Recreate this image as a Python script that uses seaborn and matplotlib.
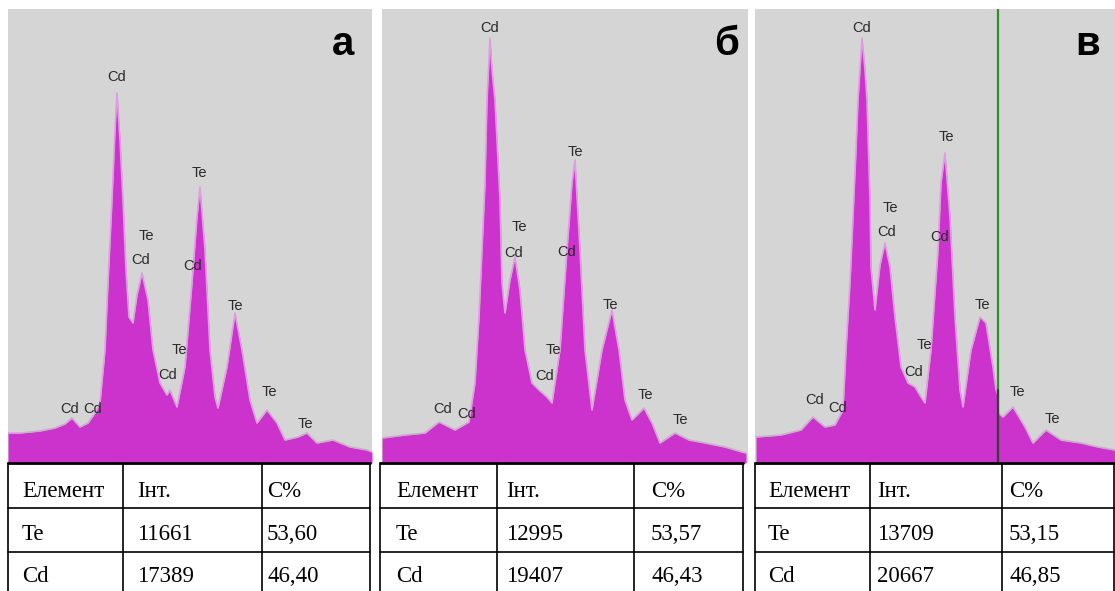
import matplotlib
matplotlib.use("Agg")
import matplotlib.pyplot as plt
import seaborn as sns
import pandas as pd

# ---------------- data ----------------
# Panel а: channel / counts outline of the EDX spectrum
a_channel = [0, 12, 32, 47, 57, 64, 72, 80, 87, 92, 97, 100, 104, 107, 109, 112, 115, 118, 121, 125,
             129, 134, 140, 145, 152, 159, 162, 169, 177, 184, 189, 192, 197, 202, 207, 210, 219, 227,
             234, 242, 249, 259, 269, 277, 290, 299, 309, 325, 342, 359, 364]
a_counts = [30, 30, 32, 35, 39, 45, 36, 40, 50, 60, 113, 180, 263, 333, 370, 323, 263, 193, 146, 140,
            168, 190, 163, 113, 80, 68, 73, 56, 96, 180, 246, 276, 213, 113, 66, 55, 96, 150,
            113, 63, 40, 53, 40, 23, 26, 30, 20, 23, 16, 13, 11]

# Panel б
b_channel = [0, 23, 43, 57, 73, 87, 93, 97, 100, 103, 105, 108, 110, 113, 118, 120, 123, 128, 133, 138,
             143, 150, 157, 165, 170, 178, 185, 190, 193, 198, 203, 210, 220, 230, 237, 243, 250, 262,
             270, 278, 293, 307, 323, 343, 360, 364]
b_counts = [25, 28, 30, 41, 33, 41, 80, 146, 213, 280, 363, 425, 393, 363, 263, 180, 150, 183, 206, 173,
            113, 80, 73, 66, 60, 113, 213, 280, 303, 213, 113, 53, 113, 153, 113, 63, 43, 55,
            40, 20, 30, 23, 20, 16, 11, 10]

# Panel в
c_channel = [1, 26, 46, 58, 70, 80, 88, 91, 95, 98, 101, 103, 107, 110, 112, 115, 116, 120, 125, 130,
             135, 140, 146, 153, 160, 166, 170, 176, 183, 186, 190, 195, 200, 205, 208, 216, 225, 231,
             238, 241, 243, 243, 248, 258, 270, 278, 291, 306, 326, 343, 360]
c_counts = [26, 28, 33, 46, 36, 38, 53, 113, 180, 246, 313, 363, 425, 393, 363, 263, 196, 153, 198, 220,
            196, 146, 96, 80, 76, 66, 60, 113, 213, 280, 310, 246, 146, 73, 56, 113, 146, 140,
            96, 73, 68, 50, 46, 56, 36, 20, 33, 23, 20, 16, 13]
c_marker_channel = 243
c_marker_dark_top = 73

# Peak labels (text, channel, counts)
a_labels = [("Cd", 109, 386), ("Te", 138, 227), ("Cd", 133, 203), ("Te", 191, 290), ("Cd", 185, 197),
            ("Te", 227, 157), ("Te", 171, 113), ("Cd", 160, 88), ("Te", 261, 71), ("Te", 297, 39),
            ("Cd", 62, 54), ("Cd", 85, 54)]
b_labels = [("Cd", 108, 435), ("Te", 193, 311), ("Te", 137, 236), ("Cd", 132, 210), ("Cd", 185, 211),
            ("Te", 228, 158), ("Te", 171, 113), ("Cd", 163, 87), ("Te", 263, 68), ("Te", 298, 43),
            ("Cd", 61, 54), ("Cd", 85, 49)]
c_labels = [("Cd", 107, 435), ("Te", 191, 326), ("Te", 135, 255), ("Cd", 132, 231), ("Cd", 185, 226),
            ("Te", 227, 158), ("Te", 169, 118), ("Cd", 159, 91), ("Te", 262, 71), ("Te", 297, 44),
            ("Cd", 60, 63), ("Cd", 83, 55)]

panel_letters = ["а", "б", "в"]
table_header = ["Елемент", "Інт.", "C%"]
elements = ["Te", "Cd"]
a_int = ["11661", "17389"]
a_conc = ["53,60", "46,40"]
b_int = ["12995", "19407"]
b_conc = ["53,57", "46,43"]
c_int = ["13709", "20667"]
c_conc = ["53,15", "46,85"]

# ---------------- style ----------------
sns.set_theme(style="white")
plt.rcParams["font.family"] = ["Liberation Sans", "DejaVu Sans"]

W, H = 1115, 591
fig = plt.figure(figsize=(W / 100, H / 100), dpi=100)
fig.patch.set_facecolor("white")

BG = "#d5d5d5"
FILL = "#cc33cc"
EDGE = "#e39be3"
SPEC_TOP, SPEC_BOT = 9, 463

panels = [
    dict(x0=8, x1=372, ch=a_channel, ct=a_counts, labels=a_labels, letter_x=343,
         cols=[8, 123, 262, 370], tx=[22, 137, 267], ints=a_int, concs=a_conc),
    dict(x0=382, x1=748, ch=b_channel, ct=b_counts, labels=b_labels, letter_x=727,
         cols=[380, 497, 634, 743], tx=[396, 506, 651], ints=b_int, concs=b_conc),
    dict(x0=755, x1=1115, ch=c_channel, ct=c_counts, labels=c_labels, letter_x=1088,
         cols=[755, 870, 1002, 1114], tx=[768, 877, 1009], ints=c_int, concs=c_conc),
]

label_font = dict(family=["Liberation Sans Narrow", "Liberation Sans", "DejaVu Sans"],
                  fontsize=10.5, color="#2a2a2a")

for i, p in enumerate(panels):
    ax = fig.add_axes([p["x0"] / W, 1 - SPEC_BOT / H, (p["x1"] - p["x0"]) / W,
                       (SPEC_BOT - SPEC_TOP) / H])
    ax.set_facecolor(BG)
    df = pd.DataFrame({"channel": p["ch"], "counts": p["ct"]})
    ax.fill_between(df["channel"], 0, df["counts"], color=FILL, lw=0, zorder=2)
    sns.lineplot(data=df, x="channel", y="counts", ax=ax, color=EDGE, lw=1.2,
                 sort=False, estimator=None, zorder=3)
    ax.set_xlim(0, p["x1"] - p["x0"])
    ax.set_ylim(0, SPEC_BOT - SPEC_TOP)
    ax.set_xlabel("")
    ax.set_ylabel("")
    ax.set_xticks([])
    ax.set_yticks([])
    for s in ax.spines.values():
        s.set_visible(False)
    for txt, cx, cy in p["labels"]:
        ax.text(cx, cy, txt, ha="center", va="center", zorder=5, **label_font)
    if i == 2:
        ax.axvline(c_marker_channel, color="#2f8f2f", lw=1.6, zorder=4)
        ax.plot([c_marker_channel, c_marker_channel], [0, c_marker_dark_top],
                color="#3b3b3b", lw=1.6, zorder=4)

# overlay axes in pixel coordinates for tables and panel letters
ov = fig.add_axes([0, 0, 1, 1])
ov.set_xlim(0, W)
ov.set_ylim(H, 0)
ov.axis("off")
ov.patch.set_alpha(0)

row_lines = [463, 508, 552]
baselines = [497, 540, 582]
tfont = dict(family=["Liberation Serif", "DejaVu Serif"], fontsize=16.5, color="black")

for i, p in enumerate(panels):
    ov.text(p["letter_x"], 55, panel_letters[i], ha="center", va="baseline",
            fontsize=29, fontweight="bold", color="black",
            family=["Liberation Sans", "DejaVu Sans"])
    c = p["cols"]
    ov.fill_between([c[0], c[3]], 463, H, color="white", zorder=1)
    ov.plot([c[0], c[3]], [463, 463], color="black", lw=2.0, zorder=3)
    for y in row_lines[1:]:
        ov.plot([c[0], c[3]], [y, y], color="black", lw=1.2, zorder=3)
    for x in c:
        ov.plot([x, x], [463, H], color="black", lw=1.2, zorder=3)
    rows = [table_header,
            [elements[0], p["ints"][0], p["concs"][0]],
            [elements[1], p["ints"][1], p["concs"][1]]]
    for r, row in enumerate(rows):
        for k, val in enumerate(row):
            ov.text(p["tx"][k], baselines[r], val, ha="left", va="baseline", zorder=4, **tfont)

fig.savefig("out.png", dpi=100)
